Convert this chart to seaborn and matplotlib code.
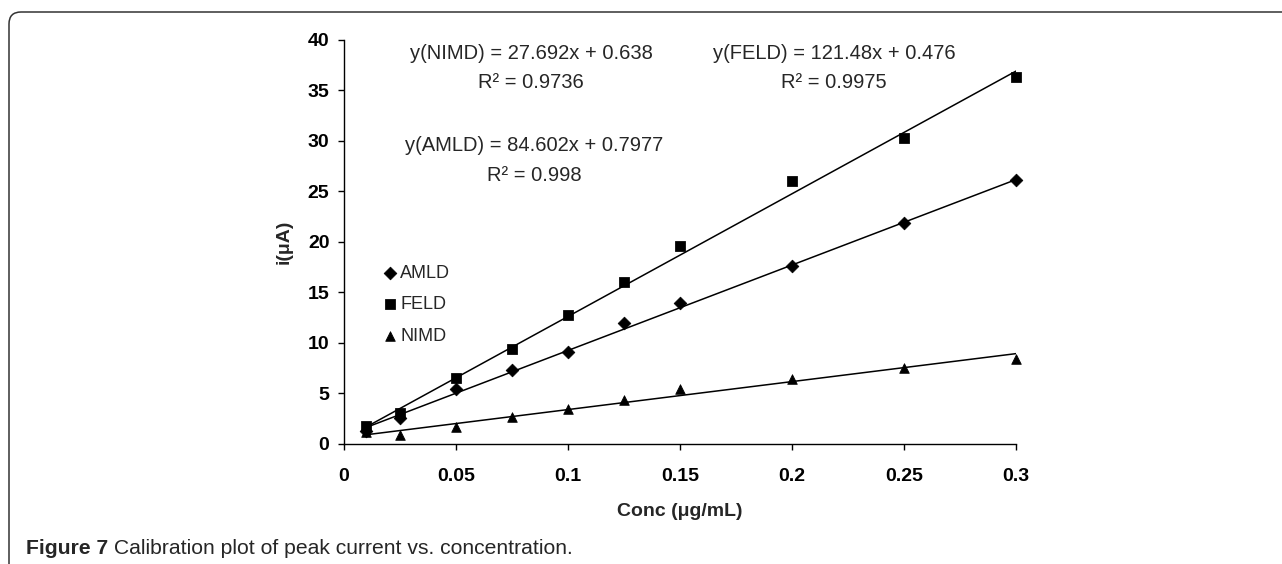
import pandas as pd
import matplotlib.pyplot as plt
import seaborn as sns
from matplotlib.patches import FancyBboxPatch

# data
conc = [0.01, 0.025, 0.05, 0.075, 0.1, 0.125, 0.15, 0.2, 0.25, 0.3]
amld = [1.3, 2.6, 5.4, 7.3, 9.1, 12.0, 14.0, 17.6, 21.9, 26.1]
feld = [1.8, 3.1, 6.5, 9.4, 12.8, 16.0, 19.6, 26.0, 30.3, 36.3]
nimd = [1.2, 0.9, 1.7, 2.7, 3.5, 4.4, 5.4, 6.4, 7.5, 8.4]

groups = ['AMLD', 'FELD', 'NIMD']
markers = ['D', 's', '^']
slopes = [84.602, 121.48, 27.692]
intercepts = [0.7977, 0.476, 0.638]
r2 = ['0.998', '0.9975', '0.9736']

df = pd.DataFrame({'Conc': conc * 3,
                   'i': amld + feld + nimd,
                   'Group': [g for g in groups for _ in conc]})

sns.set_theme(style='ticks')
plt.rcParams['font.family'] = ['Liberation Sans', 'DejaVu Sans']

fig = plt.figure(figsize=(12.82, 5.64), dpi=100)
ax = fig.add_axes([0.2683, 0.2128, 0.5242, 0.7163])

for g, m, a, b in zip(groups, markers, slopes, intercepts):
    sub = df[df['Group'] == g]
    # trendline from the fitted equation
    xs = [min(conc), max(conc)]
    sns.lineplot(x=xs, y=[a * x + b for x in xs], color='black', lw=1.1, ax=ax, legend=False)
    sns.scatterplot(data=sub, x='Conc', y='i', marker=m, color='black', edgecolor='black',
                    s=48 if m != 'D' else 42, label=g, ax=ax, clip_on=False, zorder=3)

ax.set_xlim(0, 0.3)
ax.set_ylim(0, 40)
ax.set_xticks([0, 0.05, 0.1, 0.15, 0.2, 0.25, 0.3])
ax.set_xticklabels(['0', '0.05', '0.1', '0.15', '0.2', '0.25', '0.3'])
ax.set_yticks(range(0, 41, 5))
ax.tick_params(axis='both', labelsize=14, width=1, length=4.5, colors='black')
ax.tick_params(axis='x', pad=13)
ax.tick_params(axis='y', pad=6)
for lab in ax.get_xticklabels() + ax.get_yticklabels():
    lab.set_fontweight('bold')
for sp in ['left', 'bottom']:
    ax.spines[sp].set_color('black')
    ax.spines[sp].set_linewidth(1.0)
sns.despine(ax=ax)

ax.set_xlabel('Conc (\u03bcg/mL)', fontsize=14, fontweight='bold')
ax.set_ylabel('i(\u03bcA)', fontsize=14, fontweight='bold')
ax.xaxis.set_label_coords(0.5, -0.147)
ax.yaxis.set_label_coords(-0.077, 0.5)

ax.legend(loc='center left', bbox_to_anchor=(0.045, 0.345), frameon=False, fontsize=13,
          handletextpad=0.05, labelspacing=0.8, handlelength=1.0, borderaxespad=0)

# fitted equations
eq_pos = {'NIMD': (0.0835, 38.7, 35.84), 'AMLD': (0.0848, 29.6, 26.63), 'FELD': (0.2188, 38.7, 35.84)}
for g, a, b, r in zip(groups, slopes, intercepts, r2):
    x, y1, y2 = eq_pos[g]
    ax.text(x, y1, f'y({g}) = {a:g}x + {b:g}', ha='center', va='center', fontsize=14.5)
    ax.text(x, y2, f'R\u00b2 = {r}', ha='center', va='center', fontsize=14.5)

# caption
cap = fig.text(26 / 1282, 1 - 548 / 564, 'Figure 7', fontsize=15.2, fontweight='bold', va='center')
ax.annotate(' Calibration plot of peak current vs. concentration.', xy=(1, 0), xycoords=cap,
            va='bottom', ha='left', fontsize=15.2, annotation_clip=False)

# rounded frame around the figure
frame = FancyBboxPatch((0.09, -1.0), 14.0, 6.52, boxstyle='round,pad=0,rounding_size=0.12',
                       transform=fig.dpi_scale_trans, fill=False, edgecolor='#333333', lw=1.1)
fig.add_artist(frame)

fig.savefig('out.png', dpi=100)
